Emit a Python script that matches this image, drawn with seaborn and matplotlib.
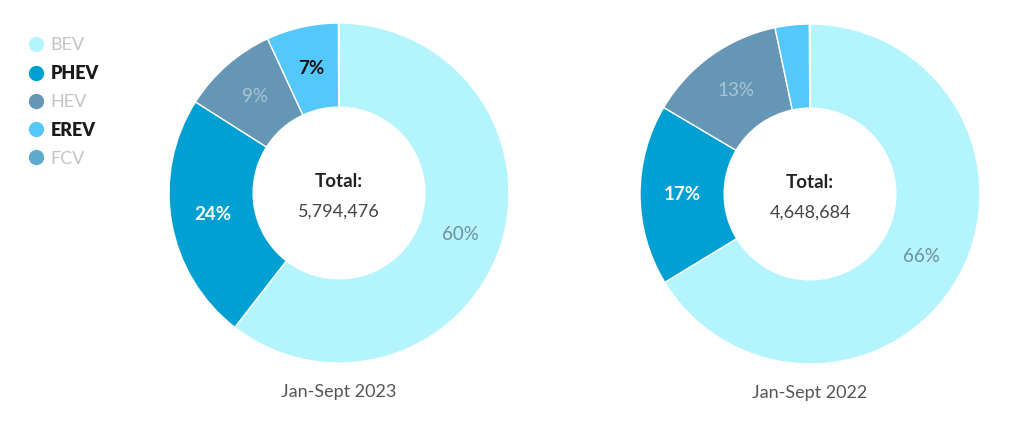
import numpy as np
import seaborn as sns
import matplotlib.pyplot as plt
from matplotlib.lines import Line2D

# share of sales by powertrain
categories = ["BEV", "PHEV", "HEV", "EREV", "FCV"]
share_2023 = [60.5, 23.5, 9.1, 6.85, 0.05]
share_2022 = [66.3, 17.2, 13.2, 3.25, 0.05]
totals = ["5,794,476", "4,648,684"]
periods = ["Jan-Sept 2023", "Jan-Sept 2022"]

colors = ["#b3f4fd", "#00a0d2", "#6596b5", "#54c8fb", "#5eaacc"]
# label styling per category (bold for PHEV / EREV like the original)
pct_colors = ["#6f8f9c", "white", "#aac4d4", "#111111", "#aac4d4"]
pct_weights = ["normal", "bold", "normal", "bold", "normal"]
leg_colors = ["#c4c4c4", "#1a1a1a", "#c4c4c4", "#1a1a1a", "#c4c4c4"]
leg_weights = ["normal", "heavy", "normal", "heavy", "normal"]

sns.set_theme(style="white")
plt.rcParams["font.family"] = ["Lato", "DejaVu Sans"]

W, H = 1022, 443
fig = plt.figure(figsize=(W / 100, H / 100), dpi=100)

centers = [(339, 193), (810, 194)]
R = 170

for (cx, cy), vals, tot, per in zip(centers, [share_2023, share_2022], totals, periods):
    ax = fig.add_axes([(cx - R) / W, (H - cy - R) / H, 2 * R / W, 2 * R / H])
    ax.pie(vals, colors=colors, startangle=90, counterclock=False,
           wedgeprops=dict(width=0.495, edgecolor="white", linewidth=1))
    # percentage labels in the middle of the ring
    start = 90.0
    for i, v in enumerate(vals):
        mid = np.deg2rad(start - v * 3.6 / 2)
        start -= v * 3.6
        if v < 5:
            continue
        r = 0.752
        ax.text(r * np.cos(mid), r * np.sin(mid), f"{v:.0f}%", ha="center", va="center",
                fontsize=13.5, color=pct_colors[i], fontweight=pct_weights[i])
    ax.text(0, 0.07, "Total:", ha="center", va="center", fontsize=13.5,
            fontweight="bold", color="#222222")
    ax.text(0, -0.11, tot, ha="center", va="center", fontsize=13,
            color="#444444")
    ax.text(0, -1.17, per, ha="center", va="center", fontsize=13,
            color="#555555")
    ax.set_xlim(-1, 1)
    ax.set_ylim(-1, 1)
    ax.set_aspect("auto")

handles = [Line2D([0], [0], marker="o", linestyle="", markersize=10,
                  markerfacecolor=c, markeredgecolor=c) for c in colors]
leg = fig.legend(handles, categories, loc="upper left", bbox_to_anchor=(16 / W, 1 - 28 / H),
                 frameon=False, fontsize=13, handletextpad=0.2, labelspacing=0.66,
                 handlelength=1.2, borderpad=0)
for t, c, w in zip(leg.get_texts(), leg_colors, leg_weights):
    t.set_color(c)
    t.set_fontweight(w)

fig.savefig("out.png", dpi=100)
